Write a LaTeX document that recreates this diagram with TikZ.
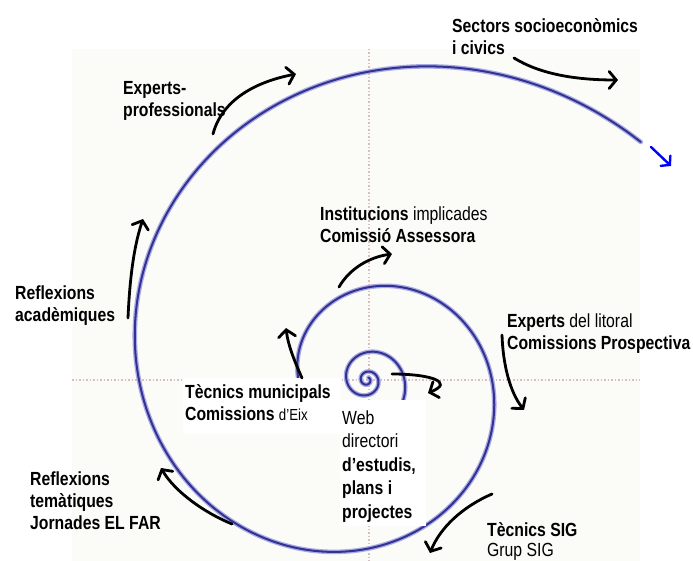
\documentclass[tikz,border=0pt]{standalone}
\usepackage{fontspec}
\setmainfont{Liberation Sans}[FakeStretch=0.83]
\usetikzlibrary{arrows.meta}
\definecolor{spiralcol}{RGB}{50,50,145}
\definecolor{spiralhalo}{RGB}{170,170,230}
\definecolor{gridcol}{RGB}{218,190,190}
\definecolor{bgtint}{RGB}{251,251,247}
\begin{document}
\begin{tikzpicture}[x=1pt,y=-1pt,
  lbl/.style={anchor=base west, inner sep=0pt, align=left,
    font=\fontsize{19}{22}\selectfont\bfseries},
  weblbl/.style={anchor=base west, inner sep=0pt, align=left,
    font=\fontsize{19}{23.5}\selectfont\bfseries},
  arr/.style={line width=2.8pt, line cap=round, black,
    -{Straight Barb[length=7pt,width=17pt,line cap=round]}},
  bluearr/.style={line width=2.4pt, line cap=round, blue,
    -{Straight Barb[length=6pt,width=14pt,line cap=round]}},
  gridline/.style={gridcol, line width=1.6pt, dash pattern=on 1.5pt off 2pt},
  cover/.style={fill=white, draw=none}]
\useasboundingbox (0,0) rectangle (693,561);
\fill[white] (0,0) rectangle (693,561);
% faint background panel
\fill[bgtint] (72,49) rectangle (640,561);
% dotted axes
\draw[gridline] (369,49) -- (369,561);
\draw[gridline] (72,380) -- (640,380);
% spiral
\draw[spiralhalo, line width=4.6pt, line cap=round]
  plot[domain=41:1500, samples=700, smooth]
  ({367+308*exp(-0.003335*(\x-90))*cos(\x)}, {380-308*exp(-0.003335*(\x-90))*sin(\x)});
\draw[spiralcol, line width=2pt, line cap=round]
  plot[domain=41:1500, samples=700, smooth]
  ({367+308*exp(-0.003335*(\x-90))*cos(\x)}, {380-308*exp(-0.003335*(\x-90))*sin(\x)});
% white covers behind central labels
\fill[cover] (183,378) rectangle (341,434);
\fill[cover] (340,400) rectangle (426,526);
% labels (anchor at the baseline of the last line)
\node[lbl] (sect) at (452,55) {Sectors socioeconòmics\\i civics};
\node[lbl] (expp) at (123,117) {Experts-\\professionals};
\node[lbl] (inst) at (320,243) {Institucions {\mdseries implicades}\\Comissió Assessora};
\node[lbl] (refa) at (15,321) {Reflexions\\acadèmiques};
\node[lbl] (expl) at (507,349) {Experts {\mdseries del litoral}\\Comissions Prospectiva};
\node[lbl] (tecm) at (185,420) {Tècnics municipals\\Comissions {\mdseries\fontsize{16}{22}\selectfont d’Eix}};
\node[weblbl] (web) at (342,518) {{\mdseries Web}\\{\mdseries directori}\\d’estudis,\\plans i\\projectes};
\node[lbl] (reft) at (30,529) {Reflexions\\temàtiques\\Jornades EL FAR};
\node[lbl] (tsig) at (487,556) {Tècnics SIG\\[-2pt]{\mdseries Grup SIG}};
% arrow end points
\coordinate (aS) at (514,58);  \coordinate (aE) at (618,80);
\coordinate (bS) at (213,134); \coordinate (bE) at (296,74);
\coordinate (cS) at (128,318); \coordinate (cE) at (143,219);
\coordinate (dS) at (339,287); \coordinate (dE) at (392,254);
\coordinate (eS) at (502,335); \coordinate (eE) at (524,410);
\coordinate (fS) at (302,378); \coordinate (fE) at (286,328);
\coordinate (gS) at (232,524); \coordinate (gE) at (161,468);
\coordinate (hS) at (492,494); \coordinate (hE) at (430,553);
\coordinate (wS) at (392,374); \coordinate (wE) at (428,393);
\coordinate (zS) at (651,147); \coordinate (zE) at (671,166);
% arrows
\draw[arr] (aS) .. controls (540,74) and (575,80) .. (aE);
\draw[arr] (bS) .. controls (222,100) and (255,82) .. (bE);
\draw[arr] (cS) .. controls (130,272) and (135,243) .. (cE);
\draw[arr] (dS) .. controls (350,268) and (370,257) .. (dE);
\draw[arr] (eS) .. controls (503,365) and (510,392) .. (eE);
\draw[arr] (fS) .. controls (294,360) and (288,345) .. (fE);
\draw[arr] (gS) .. controls (205,513) and (175,492) .. (gE);
\draw[arr] (hS) .. controls (462,507) and (440,528) .. (hE);
\draw[arr] (wS) .. controls (430,374) and (455,382) .. (wE);
\draw[bluearr] (zS) -- (zE);
\end{tikzpicture}
\end{document}
